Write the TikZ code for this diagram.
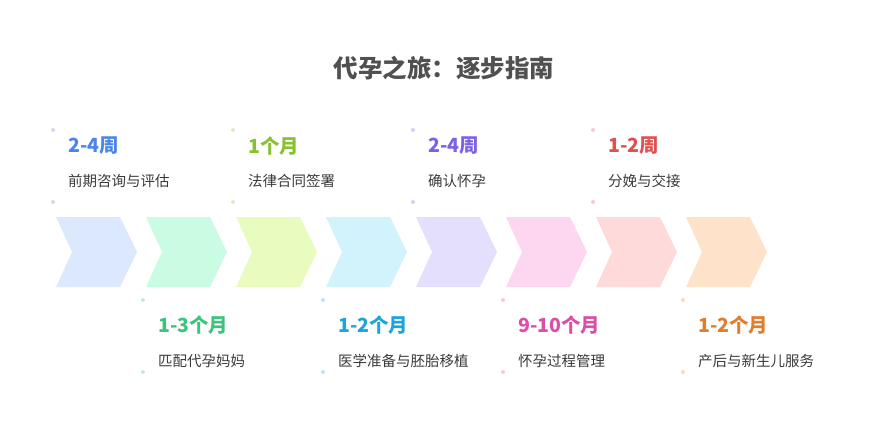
\documentclass[tikz,border=0pt]{standalone}
\usepackage{fontspec}
\setmainfont{Noto Sans CJK SC}
\usetikzlibrary{positioning}

\definecolor{titlegray}{HTML}{505050}
\definecolor{descgray}{HTML}{3A3A3A}
\definecolor{chA}{HTML}{DCE8FD}
\definecolor{chB}{HTML}{CAFCE3}
\definecolor{chC}{HTML}{E8FCBF}
\definecolor{chD}{HTML}{D2F2FC}
\definecolor{chE}{HTML}{E4DFFD}
\definecolor{chF}{HTML}{FDD7F0}
\definecolor{chG}{HTML}{FEDBDA}
\definecolor{chH}{HTML}{FEE3CA}
\definecolor{stA}{HTML}{4A86E8}
\definecolor{stB}{HTML}{3CC47F}
\definecolor{stC}{HTML}{86C232}
\definecolor{stD}{HTML}{1BA6DB}
\definecolor{stE}{HTML}{7B61E8}
\definecolor{stF}{HTML}{DB4FA8}
\definecolor{stG}{HTML}{E0504F}
\definecolor{stH}{HTML}{E07E2C}

\begin{document}
\begin{tikzpicture}[x=1pt,y=-1pt,
  period/.style={anchor=west,inner sep=0pt,text=#1,font=\fontsize{19.5}{20}\selectfont\bfseries},
  desc/.style={anchor=west,inner sep=0pt,text=descgray,font=\fontsize{14.5}{15}\selectfont},
  dot/.style={circle,fill=#1!30,inner sep=0pt,minimum size=4pt}]
\useasboundingbox (0,0) rectangle (888,444);

\node[text=titlegray,font=\fontsize{24.5}{25}\selectfont\bfseries] (title) at (444,68) {代孕之旅：逐步指南};

% chevrons
\foreach \i/\c in {0/chA,1/chB,2/chC,3/chD,4/chE,5/chF,6/chG,7/chH}
  \fill[\c] (56+90*\i,217) -- (120+90*\i,217) -- (137+90*\i,252) -- (120+90*\i,287)
            -- (56+90*\i,287) -- (72+90*\i,252) -- cycle;

% steps above
\foreach \n/\x/\c/\per/\txt in {1/53/stA/2-4周/前期咨询与评估, 3/233/stC/1个月/法律合同签署,
                               5/413/stE/2-4周/确认怀孕, 7/593/stG/1-2周/分娩与交接}{
  \node[dot=\c] (u\n) at (\x,130) {};
  \node[dot=\c] (l\n) at (\x,202) {};
  \node[period=\c] (p\n) at (\x+15,146) {\per};
  \node[desc] (d\n) at (\x+15,181) {\txt};
}
% steps below
\foreach \n/\x/\c/\per/\txt in {2/143/stB/1-3个月/匹配代孕妈妈, 4/323/stD/1-2个月/医学准备与胚胎移植,
                               6/503/stF/9-10个月/怀孕过程管理, 8/683/stH/1-2个月/产后与新生儿服务}{
  \node[dot=\c] (u\n) at (\x,300) {};
  \node[dot=\c] (l\n) at (\x,372) {};
  \node[period=\c] (p\n) at (\x+15,325) {\per};
  \node[desc] (d\n) at (\x+15,361) {\txt};
}
\end{tikzpicture}
\end{document}
